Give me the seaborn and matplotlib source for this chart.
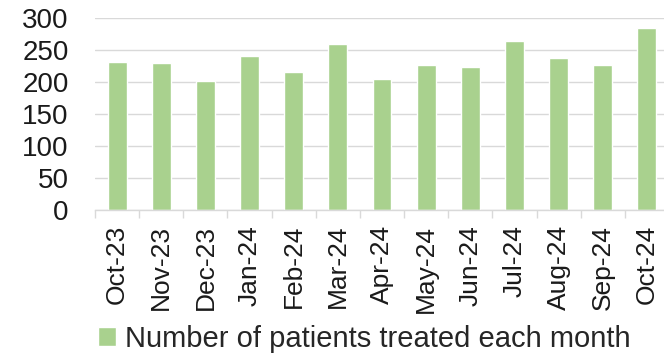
import matplotlib
matplotlib.use("Agg")
import matplotlib.pyplot as plt
import seaborn as sns
import pandas as pd
import numpy as np

months = ["Oct-23", "Nov-23", "Dec-23", "Jan-24", "Feb-24", "Mar-24", "Apr-24",
          "May-24", "Jun-24", "Jul-24", "Aug-24", "Sep-24", "Oct-24"]
patients = [231, 229, 202, 240, 215, 260, 204, 226, 224, 264, 238, 226, 285]
series_label = "Number of patients treated each month"
y_ticks = [0, 50, 100, 150, 200, 250, 300]

sns.set_theme(style="white")
plt.rcParams["font.family"] = ["Liberation Sans", "DejaVu Sans"]

W, H = 664, 353
fig = plt.figure(figsize=(W / 100, H / 100), dpi=100)
ax = fig.add_axes([95 / W, (H - 209.5) / H, 574 / W, 191.5 / H])

df = pd.DataFrame({"month": months, "patients": patients})
sns.barplot(data=df, x="month", y="patients", color="#A9D18E", saturation=1,
            width=0.43, ax=ax, label=series_label, zorder=3)

ax.set_ylim(0, 300)
ax.set_xlim(-0.5, len(months) - 0.5)
ax.set_yticks(y_ticks)
ax.set_yticklabels([str(v) for v in y_ticks], fontsize=20, color="#1a1a1a")
ax.set_xlabel("")
ax.set_ylabel("")
ax.grid(axis="y", color="#D9D9D9", linewidth=1.0, zorder=0)
ax.grid(axis="x", visible=False)
for s in ["top", "right", "left"]:
    ax.spines[s].set_visible(False)
ax.spines["bottom"].set_color("#D9D9D9")
ax.spines["bottom"].set_linewidth(1.0)
ax.spines["bottom"].set_zorder(4)

ax.set_xticks(range(len(months)))
ax.set_xticklabels(months, rotation=90, fontsize=19, color="#1a1a1a")
ax.set_xticks(np.arange(-0.5, len(months), 1.0), minor=True)
ax.tick_params(axis="x", which="major", length=0, pad=11)
ax.tick_params(axis="x", which="minor", length=6, color="#D9D9D9", width=1.0, bottom=True)
ax.tick_params(axis="y", which="both", length=0, pad=19)

ax.legend(loc="lower left", bbox_to_anchor=(94 / W, -4 / H), bbox_transform=fig.transFigure,
          frameon=False, fontsize=21, handlelength=0.6, handleheight=0.6,
          handletextpad=0.3, borderaxespad=0.0, borderpad=0.15)

fig.savefig("out.png", dpi=100)
